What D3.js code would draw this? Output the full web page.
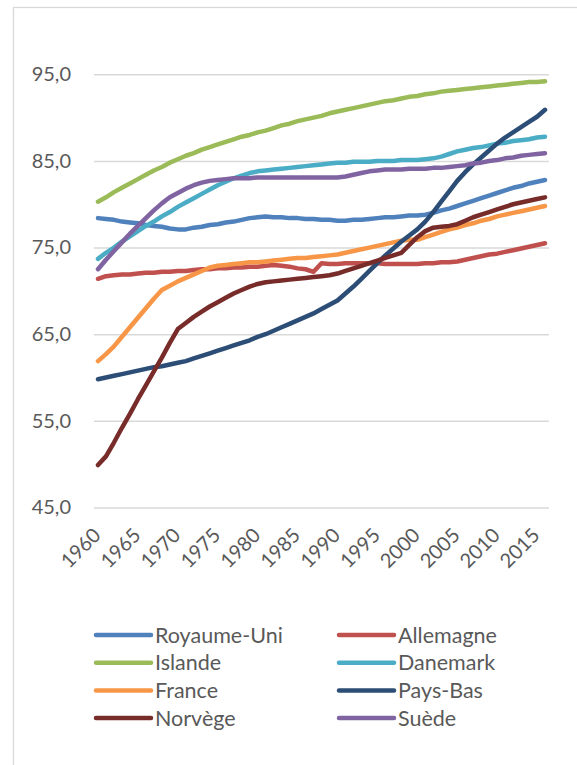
<!DOCTYPE html>
<html>
<head>
<meta charset="utf-8">
<script src="https://cdn.jsdelivr.net/npm/d3@7"></script>
<style>
  body { margin: 0; background: #fff; }
  text { font-family: Lato, "Open Sans", sans-serif; fill: #595959; }
</style>
</head>
<body>
<svg id="chart" width="577" height="765"></svg>
<script>
// years 1960 - 2016
var years = d3.range(1960, 2017);
var yearLabels = d3.range(1960, 2016, 5);
var yTicks = [45, 55, 65, 75, 85, 95];

// urban population (% of total)
var royaumeUni = [78.4,78.3,78.2,78.0,77.9,77.8,77.6,77.5,77.4,77.2,77.1,77.1,77.3,77.4,77.6,77.7,77.9,78.0,78.2,78.4,
  78.5,78.6,78.5,78.5,78.4,78.4,78.3,78.3,78.2,78.2,78.1,78.1,78.2,78.2,78.3,78.4,78.5,78.5,78.6,78.7,
  78.7,78.8,79.0,79.3,79.5,79.8,80.1,80.4,80.7,81.0,81.3,81.6,81.9,82.1,82.4,82.6,82.8];
var allemagne = [71.4,71.7,71.8,71.9,71.9,72.0,72.1,72.1,72.2,72.2,72.3,72.3,72.4,72.5,72.5,72.6,72.6,72.7,72.7,72.8,
  72.8,72.9,73.0,72.9,72.8,72.6,72.5,72.2,73.2,73.1,73.1,73.2,73.2,73.2,73.2,73.2,73.1,73.1,73.1,73.1,
  73.1,73.2,73.2,73.3,73.3,73.4,73.6,73.8,74.0,74.2,74.3,74.5,74.7,74.9,75.1,75.3,75.5];
var islande = [80.3,80.8,81.4,81.9,82.4,82.9,83.4,83.9,84.3,84.8,85.2,85.6,85.9,86.3,86.6,86.9,87.2,87.5,87.8,88.0,
  88.3,88.5,88.8,89.1,89.3,89.6,89.8,90.0,90.2,90.5,90.7,90.9,91.1,91.3,91.5,91.7,91.9,92.0,92.2,92.4,
  92.5,92.7,92.8,93.0,93.1,93.2,93.3,93.4,93.5,93.6,93.7,93.8,93.9,94.0,94.1,94.1,94.2];
var danemark = [73.7,74.4,75.0,75.7,76.3,76.9,77.5,78.0,78.6,79.1,79.7,80.2,80.7,81.2,81.7,82.2,82.6,83.0,83.3,83.6,
  83.8,83.9,84.0,84.1,84.2,84.3,84.4,84.5,84.6,84.7,84.8,84.8,84.9,84.9,84.9,85.0,85.0,85.0,85.1,85.1,
  85.1,85.2,85.3,85.5,85.8,86.1,86.3,86.5,86.6,86.8,87.0,87.1,87.3,87.4,87.5,87.7,87.8];
var france = [61.9,62.7,63.6,64.7,65.8,66.9,68.0,69.1,70.1,70.6,71.1,71.5,71.9,72.3,72.7,72.9,73.0,73.1,73.2,73.3,
  73.3,73.4,73.5,73.6,73.7,73.8,73.8,73.9,74.0,74.1,74.2,74.4,74.6,74.8,75.0,75.2,75.4,75.6,75.8,75.9,
  75.9,76.2,76.5,76.8,77.1,77.3,77.6,77.8,78.1,78.3,78.6,78.8,79.0,79.2,79.4,79.6,79.8];
var paysBas = [59.8,60.0,60.2,60.4,60.6,60.8,61.0,61.2,61.3,61.5,61.7,61.9,62.2,62.5,62.8,63.1,63.4,63.7,64.0,64.3,
  64.7,65.0,65.4,65.8,66.2,66.6,67.0,67.4,67.9,68.4,68.9,69.7,70.5,71.4,72.3,73.2,74.1,74.9,75.7,76.4,
  77.1,78.0,79.1,80.3,81.5,82.7,83.7,84.6,85.4,86.2,87.0,87.7,88.3,88.9,89.5,90.1,90.9];
var norvege = [49.9,50.9,52.5,54.2,55.8,57.5,59.1,60.7,62.3,64.0,65.6,66.3,67.0,67.6,68.2,68.7,69.2,69.7,70.1,70.5,
  70.8,71.0,71.1,71.2,71.3,71.4,71.5,71.6,71.7,71.8,72.0,72.3,72.6,72.9,73.2,73.5,73.8,74.1,74.4,75.3,
  76.2,76.9,77.3,77.4,77.5,77.7,78.1,78.5,78.8,79.1,79.4,79.7,80.0,80.2,80.4,80.6,80.8];
var suede = [72.5,73.6,74.6,75.6,76.6,77.5,78.4,79.3,80.1,80.8,81.3,81.8,82.2,82.5,82.7,82.8,82.9,83.0,83.0,83.0,
  83.1,83.1,83.1,83.1,83.1,83.1,83.1,83.1,83.1,83.1,83.1,83.2,83.4,83.6,83.8,83.9,84.0,84.0,84.0,84.1,
  84.1,84.1,84.2,84.2,84.3,84.4,84.5,84.7,84.8,85.0,85.1,85.3,85.4,85.6,85.7,85.8,85.9];

var seriesNames = ["Royaume-Uni", "Allemagne", "Islande", "Danemark", "France", "Pays-Bas", "Norvège", "Suède"];
var seriesValues = [royaumeUni, allemagne, islande, danemark, france, paysBas, norvege, suede];
var seriesColors = ["#4f81bd", "#c0504d", "#9bbb59", "#4bacc6", "#f79646", "#2c4d75", "#772c2a", "#8064a2"];

var margin = {top: 74.3, left: 94},
    width = 455,
    height = 433.2;

var svg = d3.select("#chart");

// chart area border (only left and top fall inside the picture)
svg.append("rect")
  .attr("x", 13.5).attr("y", 7.5)
  .attr("width", 700).attr("height", 900)
  .attr("fill", "none")
  .attr("stroke", "#d9d9d9")
  .attr("stroke-width", 1.3);

var g = svg.append("g")
  .attr("transform", "translate(" + margin.left + "," + margin.top + ")");

var x = d3.scaleBand()
  .domain(years)
  .range([0, width]);
var y = d3.scaleLinear()
  .domain([45, 95])
  .range([height, 0]);

var fr = d3.formatLocale({decimal: ",", thousands: " ", grouping: [3], currency: ["", " €"]});

// Y axis with gridlines
var yAxis = g.append("g")
  .call(d3.axisLeft(y)
    .tickValues(yTicks)
    .tickSize(-width)
    .tickPadding(23)
    .tickFormat(fr.format(".1f")));
yAxis.select(".domain").remove();
yAxis.selectAll(".tick line")
  .attr("stroke", "#d9d9d9")
  .attr("stroke-width", 1.5);
yAxis.selectAll(".tick text")
  .attr("font-size", "20px")
  .style("font-family", "Lato, sans-serif")
  .attr("fill", "#595959");

// X axis labels
var xAxis = g.append("g")
  .attr("transform", "translate(0," + height + ")")
  .call(d3.axisBottom(x)
    .tickValues(yearLabels)
    .tickSize(0)
    .tickPadding(0));
xAxis.select(".domain").remove();
xAxis.selectAll(".tick text")
  .attr("font-size", "20px")
  .style("font-family", "Lato, sans-serif")
  .attr("fill", "#595959")
  .attr("text-anchor", "end")
  .attr("dy", 0)
  .attr("y", 0)
  .attr("transform", "translate(4,29) rotate(-45)");

// lines
var line = d3.line()
  .x(function(d, i) { return x(years[i]) + x.bandwidth() / 2; })
  .y(function(d) { return y(d); });

g.selectAll(".serie")
  .data(seriesValues)
  .enter()
  .append("path")
    .attr("class", "serie")
    .attr("fill", "none")
    .attr("stroke", function(d, i) { return seriesColors[i]; })
    .attr("stroke-width", 4.5)
    .attr("stroke-linejoin", "round")
    .attr("stroke-linecap", "round")
    .attr("d", line);

// legend
var legend = svg.append("g")
  .attr("transform", "translate(96,635)");
var item = legend.selectAll(".item")
  .data(seriesNames)
  .enter()
  .append("g")
    .attr("class", "item")
    .attr("transform", function(d, i) {
      return "translate(" + (i % 2) * 243 + "," + Math.floor(i / 2) * 27.7 + ")";
    });
item.append("line")
  .attr("x1", 0).attr("x2", 55)
  .attr("stroke", function(d, i) { return seriesColors[i]; })
  .attr("stroke-width", 4.5)
  .attr("stroke-linecap", "round");
item.append("text")
  .attr("x", 59)
  .attr("dy", "0.35em")
  .attr("font-size", "21.5px")
  .text(function(d) { return d; });
</script>
</body>
</html>
